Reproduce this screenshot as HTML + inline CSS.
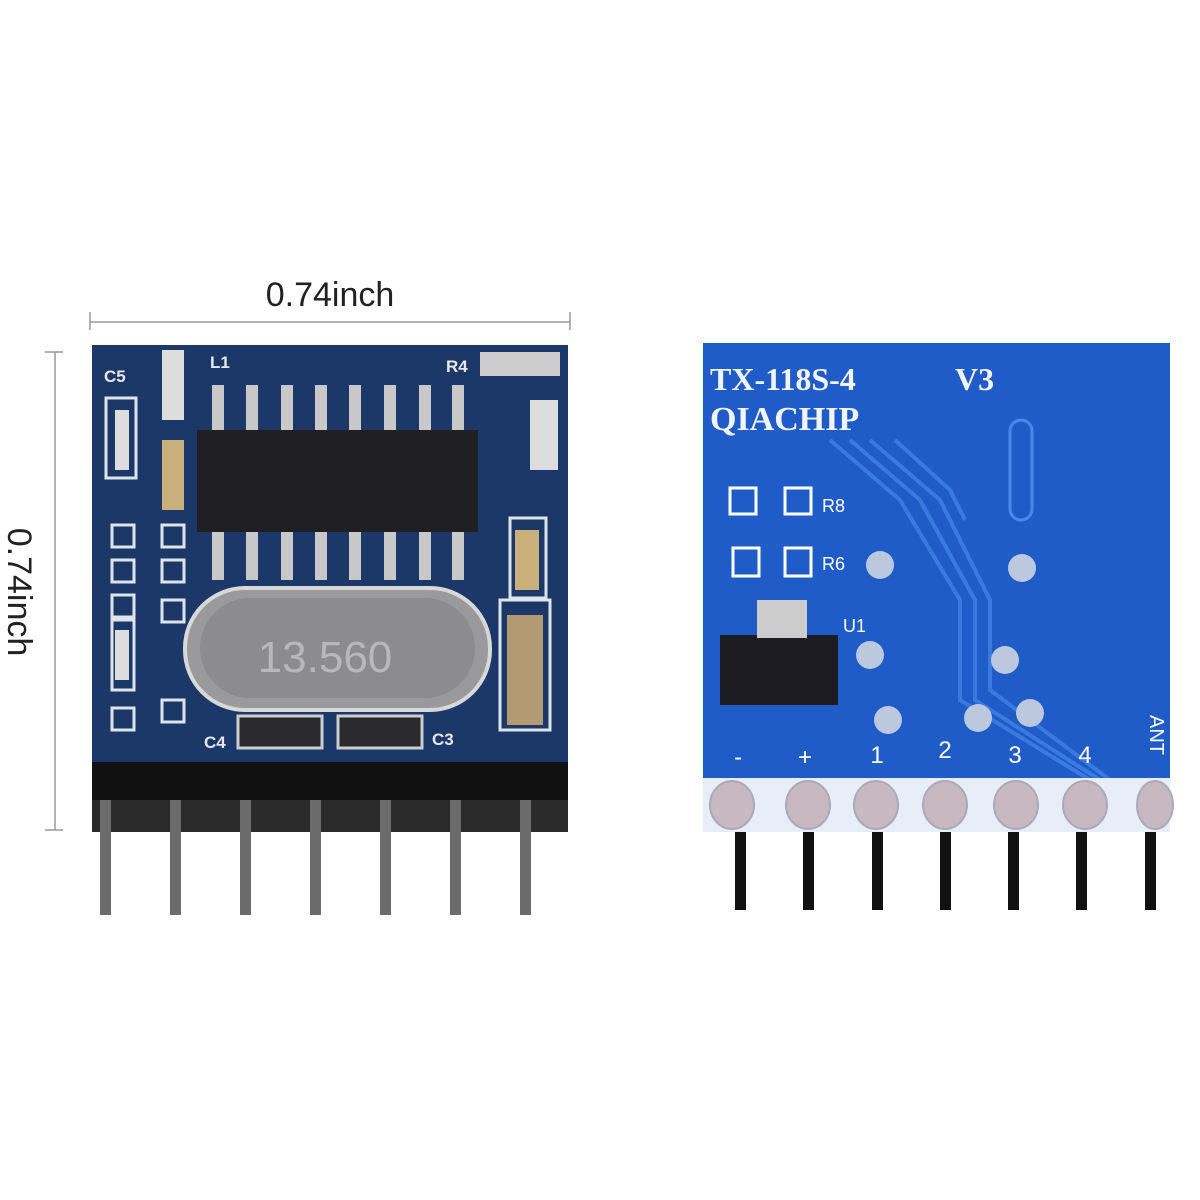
<!DOCTYPE html>
<html><head><style>
html,body{margin:0;padding:0;background:#fff;}
svg{display:block}
</style></head><body>
<svg width="1200" height="1200" viewBox="0 0 1200 1200" xmlns="http://www.w3.org/2000/svg">
<rect width="1200" height="1200" fill="#fff"/>
<!-- dimension lines -->
<line x1="90" y1="322" x2="570" y2="322" stroke="#999" stroke-width="1.5"/>
<line x1="90" y1="312" x2="90" y2="330" stroke="#999" stroke-width="1.5"/>
<line x1="570" y1="312" x2="570" y2="330" stroke="#999" stroke-width="1.5"/>
<text x="330" y="306" font-family="Liberation Sans, sans-serif" font-size="34" text-anchor="middle" fill="#222">0.74inch</text>
<line x1="55" y1="352" x2="55" y2="830" stroke="#999" stroke-width="1.5"/>
<line x1="45" y1="352" x2="63" y2="352" stroke="#999" stroke-width="1.5"/>
<line x1="45" y1="830" x2="63" y2="830" stroke="#999" stroke-width="1.5"/>
<text transform="translate(8,592) rotate(90)" font-family="Liberation Sans, sans-serif" font-size="34" text-anchor="middle" fill="#222">0.74inch</text>

<!-- LEFT BOARD -->
<rect x="92" y="345" width="476" height="420" fill="#1b3868"/>
<g fill="#e8e8e8" font-family="Liberation Sans, sans-serif" font-size="17" font-weight="bold">
<text x="104" y="382">C5</text><text x="210" y="368">L1</text><text x="446" y="372">R4</text>
<text x="432" y="745">C3</text><text x="204" y="748">C4</text>
</g>
<!-- left side components -->
<g fill="none" stroke="#dfe3ea" stroke-width="3">
<rect x="106" y="398" width="30" height="80"/>
<rect x="112" y="525" width="22" height="22"/><rect x="112" y="560" width="22" height="22"/>
<rect x="112" y="595" width="22" height="22"/><rect x="112" y="620" width="22" height="70"/>
<rect x="112" y="708" width="22" height="22"/>
<rect x="162" y="525" width="22" height="22"/><rect x="162" y="560" width="22" height="22"/>
<rect x="162" y="600" width="22" height="22"/><rect x="162" y="700" width="22" height="22"/>
<rect x="510" y="518" width="36" height="80"/><rect x="500" y="600" width="50" height="130"/>
</g>
<rect x="115" y="410" width="14" height="60" fill="#ddd"/>
<rect x="162" y="350" width="22" height="70" fill="#ddd"/>
<rect x="162" y="440" width="22" height="70" fill="#c9b07a"/>
<rect x="515" y="530" width="24" height="60" fill="#c9b07a"/>
<rect x="507" y="615" width="36" height="110" fill="#b49a72"/>
<rect x="480" y="352" width="80" height="24" fill="#ccc"/>
<rect x="530" y="400" width="28" height="70" fill="#ddd"/>
<rect x="115" y="630" width="14" height="50" fill="#ddd"/>
<!-- IC -->
<g fill="#c8c8c8">
<rect x="212" y="385" width="12" height="45"/><rect x="246" y="385" width="12" height="45"/><rect x="281" y="385" width="12" height="45"/><rect x="315" y="385" width="12" height="45"/><rect x="349" y="385" width="12" height="45"/><rect x="384" y="385" width="12" height="45"/><rect x="419" y="385" width="12" height="45"/><rect x="452" y="385" width="12" height="45"/>
<rect x="212" y="530" width="12" height="50"/><rect x="246" y="530" width="12" height="50"/><rect x="281" y="530" width="12" height="50"/><rect x="315" y="530" width="12" height="50"/><rect x="349" y="530" width="12" height="50"/><rect x="384" y="530" width="12" height="50"/><rect x="419" y="530" width="12" height="50"/><rect x="452" y="530" width="12" height="50"/>
</g>
<rect x="197" y="430" width="281" height="102" fill="#202024"/>
<!-- crystal -->
<rect x="185" y="588" width="305" height="122" rx="60" fill="#9a9a9c" stroke="#d8d8d8" stroke-width="4"/>
<rect x="200" y="598" width="275" height="100" rx="50" fill="#8c8c8e"/>
<text x="325" y="672" font-family="Liberation Sans, sans-serif" font-size="44" text-anchor="middle" fill="#b8b8b8">13.560</text>
<!-- caps -->
<rect x="238" y="716" width="84" height="32" fill="#2a2a2e" stroke="#ccc" stroke-width="3"/>
<rect x="338" y="716" width="84" height="32" fill="#2a2a2e" stroke="#ccc" stroke-width="3"/>
<!-- header -->
<rect x="92" y="762" width="476" height="70" fill="#111"/>
<g fill="#2a2a2a"><rect x="92" y="800" width="476" height="32"/></g>
<g fill="#6b6b6b">
<rect x="100" y="800" width="11" height="115"/><rect x="170" y="800" width="11" height="115"/><rect x="240" y="800" width="11" height="115"/><rect x="310" y="800" width="11" height="115"/><rect x="380" y="800" width="11" height="115"/><rect x="450" y="800" width="11" height="115"/><rect x="520" y="800" width="11" height="115"/>
</g>

<!-- RIGHT BOARD -->
<rect x="703" y="343" width="467" height="489" fill="#1f5cc8"/>
<g fill="none" stroke="#3a7ae0" stroke-width="4">
<path d="M830 440 L900 500 L960 600 L960 700 L1090 780"/>
<path d="M850 440 L920 500 L975 600 L975 700 L1100 780"/>
<path d="M870 440 L940 500 L990 600 L990 690 L1110 780"/>
<path d="M895 440 L950 490 L965 520"/>
</g>
<rect x="1010" y="420" width="22" height="100" rx="11" fill="none" stroke="#4a88e8" stroke-width="3"/>
<g font-family="Liberation Serif, serif" fill="#f2f4fa" font-weight="bold">
<text x="710" y="390" font-size="32">TX-118S-4</text><text x="955" y="390" font-size="32">V3</text>
<text x="710" y="430" font-size="34">QIACHIP</text>
</g>
<g fill="none" stroke="#fff" stroke-width="3">
<rect x="730" y="488" width="26" height="26"/><rect x="785" y="488" width="26" height="26"/>
<rect x="733" y="548" width="26" height="28"/><rect x="785" y="548" width="26" height="28"/>
</g>
<g font-family="Liberation Sans, sans-serif" font-size="18" fill="#fff">
<text x="822" y="512">R8</text><text x="822" y="570">R6</text><text x="843" y="632">U1</text>
</g>
<rect x="720" y="635" width="118" height="70" fill="#1c1c22"/>
<rect x="757" y="600" width="50" height="38" fill="#ccc"/>
<g fill="#bcc8de">
<circle cx="880" cy="565" r="14"/><circle cx="1022" cy="568" r="14"/><circle cx="1005" cy="660" r="14"/><circle cx="870" cy="655" r="14"/><circle cx="888" cy="720" r="14"/><circle cx="978" cy="718" r="14"/><circle cx="1030" cy="713" r="14"/>
</g>
<g font-family="Liberation Sans, sans-serif" font-size="24" fill="#fff" text-anchor="middle">
<text x="738" y="765">-</text><text x="805" y="765">+</text><text x="877" y="763">1</text><text x="945" y="758">2</text><text x="1015" y="763">3</text><text x="1085" y="763">4</text>
</g>
<text transform="translate(1150,735) rotate(90)" font-family="Liberation Sans, sans-serif" font-size="20" fill="#fff" text-anchor="middle">ANT</text>
<rect x="703" y="778" width="467" height="54" fill="#e8eef8"/>
<g fill="#c8b8c0" stroke="#aab" stroke-width="2">
<ellipse cx="732" cy="805" rx="22" ry="24"/><ellipse cx="808" cy="805" rx="22" ry="24"/><ellipse cx="876" cy="805" rx="22" ry="24"/><ellipse cx="945" cy="805" rx="22" ry="24"/><ellipse cx="1016" cy="805" rx="22" ry="24"/><ellipse cx="1085" cy="805" rx="22" ry="24"/><ellipse cx="1155" cy="805" rx="18" ry="24"/>
</g>
<g fill="#111">
<rect x="735" y="832" width="11" height="78"/><rect x="803" y="832" width="11" height="78"/><rect x="872" y="832" width="11" height="78"/><rect x="940" y="832" width="11" height="78"/><rect x="1008" y="832" width="11" height="78"/><rect x="1076" y="832" width="11" height="78"/><rect x="1145" y="832" width="11" height="78"/>
</g>
</svg>
</body></html>
